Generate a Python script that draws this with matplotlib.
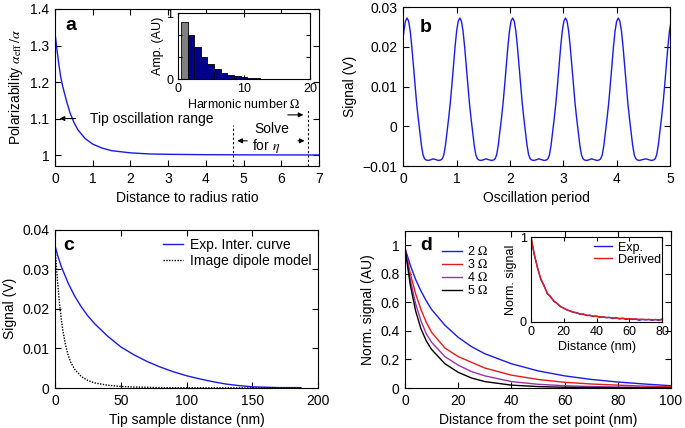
import numpy as np
import matplotlib
matplotlib.use("Agg")
import matplotlib.pyplot as plt
from matplotlib.ticker import FuncFormatter

plt.rcParams['font.family'] = ['Liberation Sans', 'DejaVu Sans']
plt.rcParams['mathtext.fontset'] = 'stix'
plt.rcParams['font.size'] = 10

# ---------------- data ----------------
# panel a: polarizability vs distance/radius
a_x = [0, 0.05, 0.1, 0.15, 0.2, 0.3, 0.4, 0.5, 0.6, 0.8, 1.0, 1.25, 1.5, 2.0, 2.5, 3.0, 4.0, 5.0, 6.0, 7.0]
a_y = [1.335, 1.29, 1.25, 1.215, 1.19, 1.15, 1.115, 1.09, 1.07, 1.045, 1.03, 1.019, 1.012, 1.006, 1.003,
       1.002, 1.001, 1.0005, 1.0003, 1.0002]
# inset a: harmonic amplitudes
harm_n = list(range(1, 20))
harm_amp = [0.86, 0.67, 0.49, 0.335, 0.22, 0.147, 0.096, 0.06, 0.04, 0.025, 0.016, 0.01, 0.006,
            0.004, 0.002, 0.0015, 0.001, 0.001, 0.0005]
# panel b: signal over oscillation periods (one period shape, offsets from peak)
b_peaks = [0.07, 1.06, 2.05, 3.04, 4.03, 5.05]
b_offset = [-0.50, -0.45, -0.40, -0.36, -0.33, -0.30, -0.27, -0.24, -0.21, -0.18, -0.15, -0.12, -0.09,
            -0.06, -0.03, 0.0, 0.03, 0.06, 0.09, 0.12, 0.15, 0.18, 0.21, 0.24, 0.27, 0.30, 0.33,
            0.36, 0.40, 0.45]
b_shape = [-0.0082, -0.0084, -0.0086, -0.0085, -0.0082, -0.0072, -0.0048, -0.0015, 0.0020, 0.0058,
           0.0103, 0.0152, 0.0200, 0.0240, 0.0265, 0.0273, 0.0265, 0.0240, 0.0200, 0.0152, 0.0103,
           0.0058, 0.0020, -0.0015, -0.0048, -0.0072, -0.0082, -0.0085, -0.0086, -0.0084]
# panel c
c_x = [0, 2, 5, 10, 15, 20, 25, 30, 40, 50, 60, 70, 80, 90, 100, 110, 120, 130, 140, 150, 160, 170, 187]
c_exp = [0.036, 0.0335, 0.0305, 0.0265, 0.0232, 0.0205, 0.0182, 0.0163, 0.0131, 0.0104, 0.0084, 0.0067,
         0.0053, 0.0041, 0.0031, 0.0023, 0.0016, 0.0010, 0.0006, 0.0003, 0.0002, 0.0001, 0.0001]
c_dx = [0, 1, 2, 3, 4, 5, 6, 8, 10, 12, 15, 20, 25, 30, 40, 50, 60, 80, 100, 150, 187]
c_dip = [0.0358, 0.031, 0.0267, 0.0229, 0.0196, 0.0168, 0.0145, 0.0109, 0.0083, 0.0065, 0.0047, 0.0029,
         0.0019, 0.0013, 0.0007, 0.0004, 0.00025, 0.0001, 0.00005, 0.00002, 0.00001]
# panel d
d_x = [0, 2, 4, 6, 8, 10, 15, 20, 25, 30, 40, 50, 60, 70, 80, 90, 100]
d_h2 = [0.98, 0.86, 0.76, 0.68, 0.61, 0.55, 0.44, 0.355, 0.29, 0.24, 0.17, 0.12, 0.085, 0.06, 0.042, 0.028, 0.016]
d_h3 = [0.98, 0.80, 0.66, 0.55, 0.46, 0.39, 0.28, 0.22, 0.18, 0.14, 0.09, 0.06, 0.04, 0.028, 0.02, 0.013, 0.008]
d_h4 = [0.98, 0.76, 0.59, 0.47, 0.38, 0.32, 0.22, 0.16, 0.115, 0.085, 0.045, 0.026, 0.016, 0.01, 0.007, 0.005, 0.003]
d_h5 = [0.98, 0.72, 0.54, 0.415, 0.33, 0.27, 0.17, 0.11, 0.07, 0.045, 0.02, 0.01, 0.005, 0.003, 0.002, 0.001, 0.001]
d_labels = ['2 $\\Omega$', '3 $\\Omega$', '4 $\\Omega$', '5 $\\Omega$']
# inset d
di_x = list(range(0, 82, 2))
di_exp = [0.99, 0.79, 0.64, 0.50, 0.43, 0.33, 0.30, 0.24, 0.22, 0.18, 0.165, 0.14, 0.13, 0.115, 0.11, 0.09,
          0.095, 0.075, 0.08, 0.065, 0.07, 0.055, 0.06, 0.05, 0.055, 0.04, 0.05, 0.035, 0.045, 0.03, 0.04,
          0.03, 0.035, 0.02, 0.03, 0.025, 0.03, 0.02, 0.03, 0.02, 0.035]
di_dx = [0, 2, 4, 6, 8, 10, 12, 14, 16, 18, 20, 25, 30, 35, 40, 50, 60, 70, 80]
di_der = [1.0, 0.8, 0.63, 0.51, 0.42, 0.34, 0.29, 0.25, 0.215, 0.185, 0.16, 0.12, 0.095, 0.078, 0.065,
          0.048, 0.037, 0.03, 0.025]

# ---------------- figure ----------------
fig = plt.figure(figsize=(6.85, 4.28), dpi=100)
W, H = 685.0, 428.0


def place(l, t, r, b):
    return [l / W, 1 - b / H, (r - l) / W, (b - t) / H]


fmt = FuncFormatter(lambda v, p: ('%g' % round(v, 6)).replace('-', '\u2212'))


def style(ax, fs=10):
    ax.tick_params(direction='in', top=True, right=True, length=4, width=0.8, labelsize=fs, pad=4)
    for s in ax.spines.values():
        s.set_linewidth(0.8)
    ax.xaxis.set_major_formatter(fmt)
    ax.yaxis.set_major_formatter(fmt)


BLUE = '#1a1ae6'
RED = '#e61a1a'

# panel a
ax = fig.add_axes(place(55, 9, 319, 166))
ax.plot(a_x, a_y, color=BLUE, lw=1)
ax.set_xlim(0, 7)
ax.set_ylim(0.97, 1.4)
ax.set_xticks(range(0, 8))
ax.set_yticks([1, 1.1, 1.2, 1.3, 1.4])
style(ax)
ax.set_xlabel('Distance to radius ratio')
ax.set_ylabel('Polarizability $\\alpha_{\\rm eff}\\,/\\alpha$')
ax.text(0.038, 0.866, 'a', transform=ax.transAxes, fontsize=14, fontweight='bold')
ap = dict(arrowstyle='-|>', color='k', lw=0.8, mutation_scale=7)
ax.annotate('', xy=(0.05, 1.1), xytext=(0.62, 1.1), arrowprops=ap)
ax.text(0.93, 1.1, 'Tip oscillation range', va='center', ha='left', fontsize=10)
ax.plot([4.73, 4.73], [0.97, 1.082], ls=(0, (2, 2)), color='k', lw=0.8)
ax.plot([6.72, 6.72], [0.97, 1.123], ls=(0, (2, 2)), color='k', lw=0.8)
ax.text(5.75, 1.07, 'Solve', ha='center', va='center', fontsize=10)
ax.text(5.61, 1.025, 'for $\\eta$', ha='center', va='center', fontsize=10)
ax.annotate('', xy=(6.66, 1.11), xytext=(6.1, 1.11), arrowprops=ap)
ax.annotate('', xy=(4.76, 1.039), xytext=(5.17, 1.039), arrowprops=ap)
ax.annotate('', xy=(6.69, 1.039), xytext=(6.37, 1.039), arrowprops=ap)

# inset a
axi = fig.add_axes(place(177.7, 13, 310, 79))
axi.bar(harm_n[:1], harm_amp[:1], width=1, color='#808080', edgecolor='k', lw=0.6)
axi.bar(harm_n[1:], harm_amp[1:], width=1, color='#00008c', edgecolor='k', lw=0.6)
axi.set_xlim(0, 20)
axi.set_ylim(0, 1)
axi.set_xticks([0, 10, 20])
axi.set_yticks([0, 1 / 3, 2 / 3, 1])
style(axi, fs=9)
axi.set_yticklabels(['0', '', '', '1'])
axi.tick_params(length=3, pad=3)
axi.set_xlabel('Harmonic number $\\Omega$', fontsize=9, labelpad=2)
axi.set_ylabel('Amp. (AU)', fontsize=9, labelpad=2)

# panel b
ax = fig.add_axes(place(403.3, 7.3, 670, 166))
bx, by = [], []
for pk in b_peaks:
    for o, v in zip(b_offset, b_shape):
        bx.append(pk + o)
        by.append(v)
ax.plot(bx, by, color=BLUE, lw=1)
ax.set_xlim(0, 5)
ax.set_ylim(-0.01, 0.03)
ax.set_xticks(range(0, 6))
ax.set_yticks([-0.01, 0, 0.01, 0.02, 0.03])
style(ax)
ax.set_xlabel('Oscillation period')
ax.set_ylabel('Signal (V)')
ax.text(0.06, 0.846, 'b', transform=ax.transAxes, fontsize=14, fontweight='bold')

# panel c
ax = fig.add_axes(place(55, 229.7, 318, 388))
ax.plot(c_x, c_exp, color=BLUE, lw=1, label='Exp. Inter. curve')
ax.plot(c_dx, c_dip, color='k', lw=1, ls=(0, (1, 1)), label='Image dipole model')
ax.set_xlim(0, 200)
ax.set_ylim(0, 0.04)
ax.set_xticks([0, 50, 100, 150, 200])
ax.set_yticks([0, 0.01, 0.02, 0.03, 0.04])
style(ax)
ax.set_xlabel('Tip sample distance (nm)')
ax.set_ylabel('Signal (V)')
ax.text(0.03, 0.872, 'c', transform=ax.transAxes, fontsize=14, fontweight='bold')
ax.legend(loc='upper right', bbox_to_anchor=(0.976, 0.948), frameon=False, fontsize=10,
          handlelength=1.45, handletextpad=0.5, labelspacing=0.13, borderpad=0, borderaxespad=0)

# panel d
ax = fig.add_axes(place(405, 231, 671, 388))
for ys, col, lab in zip([d_h2, d_h3, d_h4, d_h5], [BLUE, RED, '#9933aa', 'k'], d_labels):
    ax.plot(d_x, ys, color=col, lw=1, label=lab)
ax.set_xlim(0, 100)
ax.set_ylim(0, 1.1)
ax.set_xticks([0, 20, 40, 60, 80, 100])
ax.set_yticks([0, 0.2, 0.4, 0.6, 0.8, 1])
style(ax)
ax.set_xlabel('Distance from the set point (nm)')
ax.set_ylabel('Norm. signal (AU)')
ax.text(0.056, 0.879, 'd', transform=ax.transAxes, fontsize=14, fontweight='bold')
ax.legend(loc='upper left', bbox_to_anchor=(0.138, 0.911), frameon=False, fontsize=9, handlelength=1.6,
          handletextpad=0.45, labelspacing=0.0, borderpad=0, borderaxespad=0)

# inset d
axi = fig.add_axes(place(531, 237, 662, 322))
axi.plot(di_x, di_exp, color=BLUE, lw=1, label='Exp.')
axi.plot(di_dx, di_der, color=RED, lw=1, label='Derived')
axi.set_xlim(0, 80)
axi.set_ylim(0, 1)
axi.set_xticks([0, 20, 40, 60, 80])
axi.set_yticks([0, 1])
style(axi, fs=9)
axi.tick_params(length=3, pad=3)
axi.set_xlabel('Distance (nm)', fontsize=9, labelpad=2)
axi.set_ylabel('Norm. signal', fontsize=9, labelpad=2)
axi.legend(loc='upper right', bbox_to_anchor=(0.995, 0.945), frameon=False, fontsize=9, handlelength=1.45,
           handletextpad=0.5, labelspacing=0.0, borderpad=0, borderaxespad=0)

fig.savefig('out.png', dpi=100)
